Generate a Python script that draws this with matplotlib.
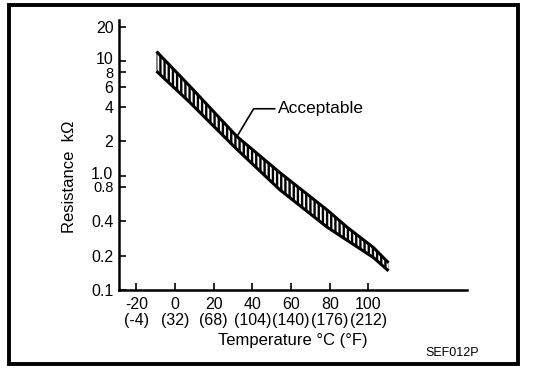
import matplotlib.pyplot as plt
from matplotlib.patches import Rectangle
from matplotlib.ticker import NullLocator
from matplotlib.transforms import offset_copy

plt.rcParams['font.family'] = ['Liberation Sans', 'DejaVu Sans']
plt.rcParams['hatch.linewidth'] = 1.7

# Acceptable resistance band (temperature in degC, resistance in kOhm)
temp_upper = [-9.6, 7.5, 32, 54.3, 78.7, 89, 102.6, 110.4]
res_upper = [12.2, 6.1, 2.2, 1.06, 0.50, 0.354, 0.235, 0.173]
temp_lower = [-9.6, 7.5, 32, 54.3, 78.7, 89, 102.6, 110.4]
res_lower = [8.2, 4.4, 1.70, 0.75, 0.354, 0.272, 0.192, 0.147]

x_ticks = [-20, 0, 20, 40, 60, 80, 100]
x_labels = ['-20\n(-4)', '0\n(32)', '20\n(68)', '40\n(104)', '60\n(140)', '80\n(176)', '100\n(212)']
y_ticks = [20, 10, 8, 6, 4, 2, 1.0, 0.8, 0.4, 0.2, 0.1]
y_labels = ['20', '10', '8', '6', '4', '2', '1.0', '0.8', '0.4', '0.2', '0.1']

fig = plt.figure(figsize=(5.6, 3.82), dpi=100)
ax = fig.add_axes([0.2125, 0.2408, 0.6215, 0.7068])

# band with vertical hatching
ax.fill_between(temp_upper, res_lower, res_upper, facecolor='none',
                edgecolor='black', hatch='||||', linewidth=0)
ax.plot(temp_upper, res_upper, color='black', linewidth=2.2, solid_capstyle='butt')
ax.plot(temp_lower, res_lower, color='black', linewidth=2.2, solid_capstyle='butt')

ax.set_yscale('log')
ax.set_xlim(-29, 151)
ax.set_ylim(0.1, 23)
ax.set_yticks(y_ticks)
ax.set_yticklabels(y_labels)
ax.yaxis.set_minor_locator(NullLocator())
ax.set_xticks(x_ticks)
ax.set_xticklabels(x_labels, linespacing=1.05)

ax.tick_params(direction='in', length=5, width=1.2, labelsize=11.5, pad=4)
ax.tick_params(axis='x', pad=5)
for side in ['top', 'right']:
    ax.spines[side].set_visible(False)
for side in ['left', 'bottom']:
    ax.spines[side].set_linewidth(1.8)

# squeeze the crowded labels apart a little
for lbl in ax.get_yticklabels():
    if lbl.get_text() in ('10', '1.0'):
        lbl.set_transform(offset_copy(lbl.get_transform(), fig=fig, x=0, y=2.2, units='points'))
    elif lbl.get_text() in ('8', '0.8'):
        lbl.set_fontsize(10.5)

ax.set_xlabel('Temperature °C (°F)', fontsize=12, labelpad=4)
ax.set_ylabel('Resistance  kΩ', fontsize=12)
ax.yaxis.set_label_coords(-0.12, 0.42)

# leader line and label for the band
ax.annotate('Acceptable', xy=(32, 2.2), xytext=(53, 3.85), fontsize=12.5,
            va='center', ha='left',
            arrowprops=dict(arrowstyle='-', color='black', linewidth=1.2,
                            connectionstyle='angle,angleA=0,angleB=59,rad=0',
                            shrinkA=0, shrinkB=0))

fig.text(0.76, 0.075, 'SEF012P', fontsize=9, ha='left', va='center')

# outer frame
fig.add_artist(Rectangle((0.016, 0.047), 0.909, 0.94, transform=fig.transFigure,
                         fill=False, edgecolor='black', linewidth=2.8))

fig.savefig('out.png', dpi=100)
